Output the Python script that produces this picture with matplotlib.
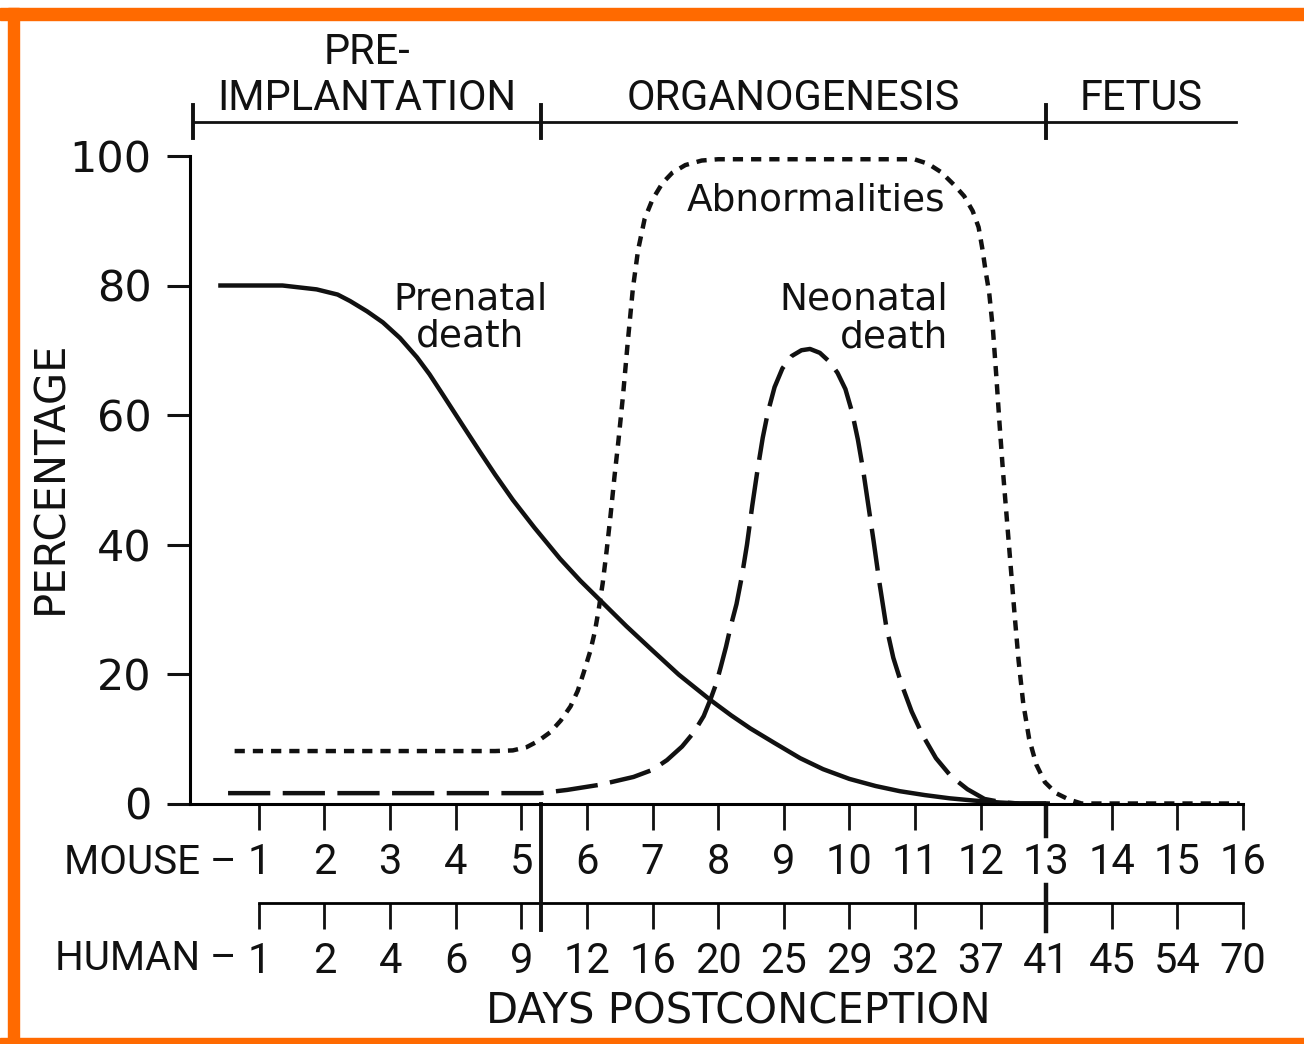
import matplotlib.pyplot as plt
import matplotlib.transforms as mtransforms
from matplotlib.patches import Rectangle

# Day scales: the mouse day sits on the x axis, human equivalents below it
mouse_days = list(range(1, 17))
human_days = [1, 2, 4, 6, 9, 12, 16, 20, 25, 29, 32, 37, 41, 45, 54, 70]

# Developmental periods, in mouse days
period_edges = [0, 5.3, 13, 15.9]
period_names = ["PRE-\nIMPLANTATION", "ORGANOGENESIS", "FETUS"]

# Prenatal death (%)
prenatal_x = [0.38, 1.36, 1.88, 2.2, 2.39, 2.65, 2.89, 3.15, 3.41, 3.6, 3.8,
              4.1, 4.37, 4.6, 4.87, 5.2, 5.59, 5.9, 6.2, 6.6, 6.96, 7.4, 7.88,
              8.2, 8.49, 8.85, 9.25, 9.6, 10.0, 10.4, 10.77, 11.15, 11.53,
              11.9, 12.3, 12.6, 13.0]
prenatal_y = [80, 80, 79.4, 78.6, 77.6, 76.0, 74.3, 71.9, 68.9, 66.3, 63.2,
              58.5, 54.3, 50.8, 46.9, 42.6, 37.8, 34.4, 31.4, 27.4, 24.0, 19.9,
              16.0, 13.6, 11.6, 9.4, 7.0, 5.3, 3.8, 2.7, 1.9, 1.3, 0.8,
              0.45, 0.15, 0.0, 0.0]

# Abnormalities (%)
abnorm_x = [0.63, 4.6, 4.87, 5.08, 5.25, 5.44, 5.6, 5.75, 5.86, 5.95, 6.05,
            6.12, 6.18, 6.24, 6.30, 6.36, 6.42, 6.48, 6.55, 6.62, 6.70, 6.78,
            6.88, 7.0, 7.15, 7.3, 7.5, 7.75, 8.0, 10.99, 11.2, 11.4, 11.6,
            11.75, 11.88, 11.97, 12.03, 12.08, 12.13, 12.19, 12.24, 12.29,
            12.34, 12.40, 12.46, 12.52, 12.58, 12.65, 12.74, 12.85, 12.98,
            13.15, 13.35, 13.54, 15.95]
abnorm_y = [8.1, 8.1, 8.2, 8.7, 9.6, 11.0, 12.8, 15.0, 17.4, 20.2, 23.5,
            26.5, 30.0, 34.0, 39.0, 44.5, 50.5, 56.0, 63.0, 71.0, 79.5, 85.5,
            90.3, 93.3, 95.8, 97.4, 98.6, 99.3, 99.5, 99.5, 98.8, 97.5, 95.5,
            93.8, 91.5, 89.0, 85.5, 82.0, 79.0, 73.0, 66.0, 58.5,
            51.5, 44.0, 36.5, 29.0, 22.0, 15.5, 10.0, 6.0, 3.3,
            1.6, 0.6, 0.0, 0.0]

# Neonatal death (%)
neonatal_x = [0.53, 5.29, 5.70, 6.20, 6.71, 7.0, 7.22, 7.45, 7.63, 7.78, 7.88,
              7.97, 8.04, 8.12, 8.19, 8.28, 8.36, 8.44, 8.52, 8.60, 8.68,
              8.76, 8.86, 8.98, 9.12, 9.27, 9.40, 9.55, 9.70, 9.82, 9.94,
              10.04, 10.13, 10.21, 10.29, 10.37, 10.46, 10.56, 10.67, 10.80,
              10.95, 11.12, 11.32, 11.55, 11.8, 12.06, 12.35, 12.6, 13.2]
neonatal_y = [1.6, 1.6, 2.1, 2.9, 4.1, 5.2, 6.7, 8.8, 11.0, 13.5, 16.0,
              18.5, 21.1, 24.2, 27.3, 30.8, 35.0, 40.0, 46.0, 51.5, 56.5,
              60.5, 64.3, 67.2, 69.1, 70.0, 70.2, 69.6, 68.2, 66.5, 64.0,
              60.5, 56.2, 51.5, 46.0, 40.5, 34.0, 27.5, 22.5, 18.3,
              14.2, 10.5, 7.0, 4.2, 2.2, 0.7, 0.15, 0.0, 0.0]

ink = "#111111"
narrow = ["Roboto", "DejaVu Sans"]
plt.rcParams["font.family"] = ["DejaVu Sans"]

fig = plt.figure(figsize=(13.04, 10.44), dpi=100)
ax = fig.add_axes([190 / 1304, 1 - 803.5 / 1044, (1243 - 190) / 1304, 647.5 / 1044])

lw = 3.2
ax.plot(prenatal_x, prenatal_y, color=ink, lw=lw, solid_capstyle="butt",
        solid_joinstyle="round", clip_on=False)
ax.plot(abnorm_x, abnorm_y, color=ink, lw=lw, dashes=(2.3, 1.8), clip_on=False)
ax.plot(neonatal_x, neonatal_y, color=ink, lw=lw, dashes=(9.5, 2.8), clip_on=False)

ax.text(4.22, 75, "Prenatal\ndeath", ha="center", va="center", fontsize=27,
        linespacing=1.05, color=ink)
ax.text(9.49, 93.1, "Abnormalities", ha="center", va="center", fontsize=27, color=ink)
ax.text(11.5, 74.9, "Neonatal\ndeath", ha="right", va="center", fontsize=27,
        multialignment="right", linespacing=1.05, color=ink)

ax.set_xlim(-0.05, 16)
ax.set_ylim(0, 100)
for side in ("top", "right"):
    ax.spines[side].set_visible(False)
ax.spines["left"].set_linewidth(2.2)
ax.spines["bottom"].set_linewidth(2.2)

ax.set_yticks(range(0, 101, 20))
ax.tick_params(axis="y", direction="out", length=16.5, width=2.2, pad=11,
               labelsize=31, colors=ink)
ax.set_xticks(mouse_days)
ax.set_xticklabels(mouse_days, fontfamily=narrow, fontsize=30)
ax.tick_params(axis="x", direction="out", length=18.5, width=2.0, pad=9, colors=ink)

# human scale under the mouse scale
sec = ax.secondary_xaxis(-0.1537)
sec.set_xticks(mouse_days)
sec.set_xticklabels(human_days, fontfamily=narrow, fontsize=30)
sec.spines["bottom"].set_bounds(1, 16)
sec.spines["bottom"].set_linewidth(2.0)
sec.tick_params(axis="x", direction="out", length=19, width=2.0, pad=8, colors=ink)

trans = mtransforms.blended_transform_factory(ax.transData, ax.transAxes)

# period dividers across the day scales
ax.plot([period_edges[1]] * 2, [0, -0.195], color=ink, lw=2.8, transform=trans, clip_on=False)
ax.plot([period_edges[2]] * 2, [0, -0.05], color=ink, lw=3.2, transform=trans, clip_on=False)
ax.plot([period_edges[2]] * 2, [-0.126, -0.197], color=ink, lw=3.2, transform=trans, clip_on=False)

# period bar above the plot
bar_y = 1.0525
ax.plot([period_edges[0], period_edges[-1]], [bar_y, bar_y], color=ink, lw=2.0,
        transform=trans, clip_on=False)
for edge in period_edges[:-1]:
    ax.plot([edge, edge], [bar_y - 0.024, bar_y + 0.026], color=ink, lw=2.8,
            transform=trans, clip_on=False)
for left, right, name in zip(period_edges[:-1], period_edges[1:], period_names):
    ax.text((left + right) / 2, 1.057, name, ha="center", va="bottom",
            fontfamily=narrow, fontsize=30, linespacing=1.15,
            color=ink, transform=trans)

# row names for the day scales
ax.text(0.66, -0.0905, "MOUSE \u2013", ha="right", va="center", fontfamily=narrow,
        fontsize=29, color=ink, transform=trans)
ax.text(0.66, -0.239, "HUMAN \u2013", ha="right", va="center", fontfamily=narrow,
        fontsize=29, color=ink, transform=trans)

fig.text(738 / 1304, 1 - 1012 / 1044, "DAYS POSTCONCEPTION", ha="center", va="center",
         fontsize=30, color=ink)
fig.text(50 / 1304, 1 - 477 / 1044, "PERCENTAGE", ha="center", va="center",
         rotation=90, fontsize=30, color=ink)

# orange frame
orange = "#FF6A00"
fig.patches.append(Rectangle((0, 1 - 20 / 1044), 1, 12 / 1044, transform=fig.transFigure,
                             color=orange, zorder=0))
fig.patches.append(Rectangle((8 / 1304, 0), 11 / 1304, 1 - 8 / 1044,
                             transform=fig.transFigure, color=orange, zorder=0))
fig.patches.append(Rectangle((0, 0), 1, 6 / 1044, transform=fig.transFigure,
                             color=orange, zorder=0))

fig.savefig("out.png", dpi=100, facecolor="white")
